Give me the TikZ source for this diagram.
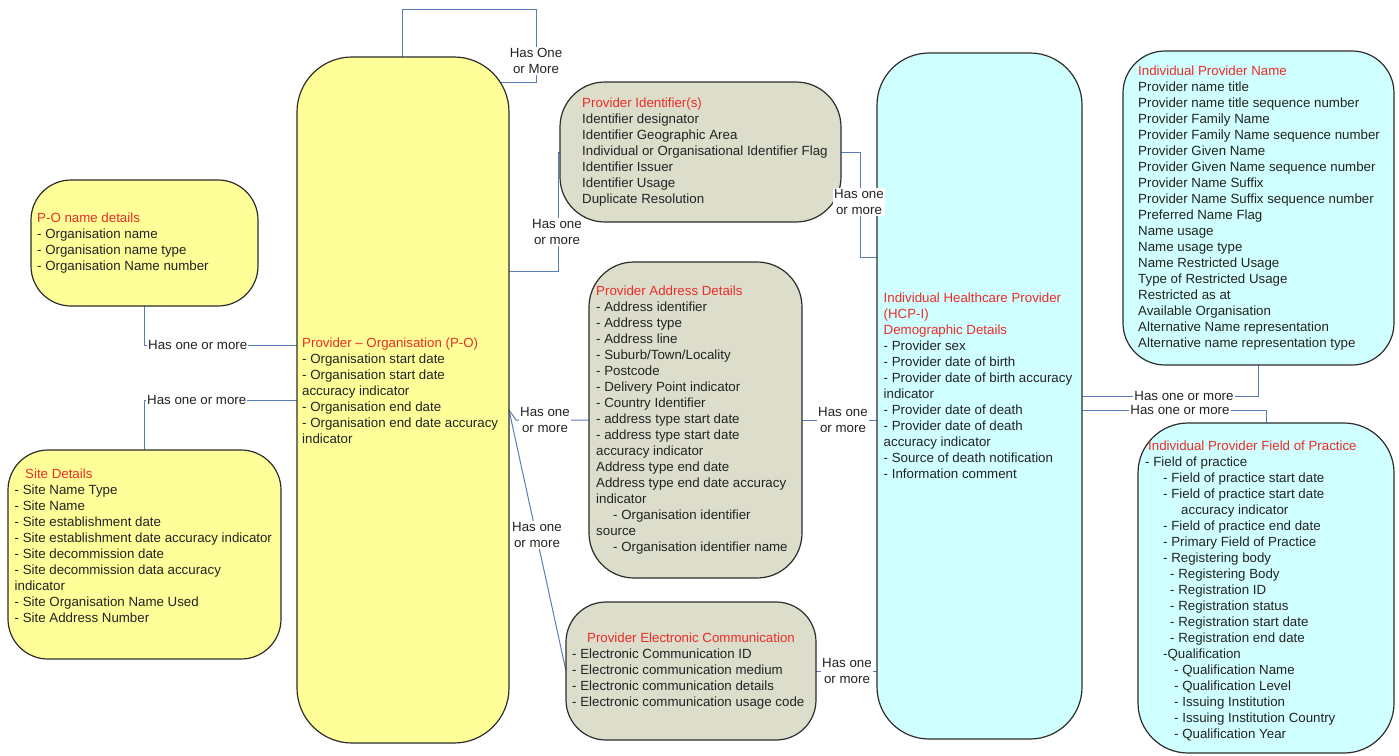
\documentclass[tikz,border=0pt]{standalone}
\usepackage{fontspec}
\setmainfont{Liberation Sans}
\pgfdeclarelayer{background}
\pgfsetlayers{background,main}
\definecolor{yel}{RGB}{255,255,153}
\definecolor{sage}{RGB}{221,221,204}
\definecolor{aqua}{RGB}{208,255,255}
\definecolor{linkblue}{RGB}{90,125,185}
\definecolor{titlered}{RGB}{235,45,40}
\definecolor{ink}{RGB}{35,35,35}
\definecolor{edge}{RGB}{45,45,45}
\newcommand{\ttl}[1]{\textcolor{titlered}{#1}}
\begin{document}
\begin{tikzpicture}[x=1pt,y=-1pt,
  box/.style={draw=edge, line width=1.2pt, outer sep=0pt, inner sep=0pt, anchor=north west},
  blk/.style={anchor=north west, inner sep=0pt, align=left, font=\fontsize{13.3}{16}\selectfont, text=ink},
  lbl/.style={fill=white, inner sep=1pt, align=center, font=\fontsize{13.3}{16}\selectfont, text=ink},
  conn/.style={draw=linkblue, line width=1pt}]
\useasboundingbox (0,0) rectangle (1399,755);

% entity boxes
\node[box, fill=yel, rounded corners=40pt, minimum width=227pt, minimum height=126pt] (pon) at (31,180) {};
\node[box, fill=yel, rounded corners=40pt, minimum width=273pt, minimum height=209pt] (site) at (8,450) {};
\node[box, fill=yel, rounded corners=55pt, minimum width=212pt, minimum height=686pt] (po) at (297,57) {};
\node[box, fill=sage, rounded corners=45pt, minimum width=281pt, minimum height=140pt] (pid) at (560,82) {};
\node[box, fill=sage, rounded corners=45pt, minimum width=213pt, minimum height=316pt] (addr) at (589,262) {};
\node[box, fill=sage, rounded corners=40pt, minimum width=250pt, minimum height=138pt] (ec) at (566,602) {};
\node[box, fill=aqua, rounded corners=52pt, minimum width=205pt, minimum height=686pt] (hcp) at (877,53) {};
\node[box, fill=aqua, rounded corners=42pt, minimum width=271pt, minimum height=314pt] (name) at (1123,51) {};
\node[box, fill=aqua, rounded corners=50pt, minimum width=256pt, minimum height=330pt] (fop) at (1138,423) {};

% bend points of the connectors
\coordinate (loopTop) at (536,9);
\coordinate (loopEnd) at (536,82);
\coordinate (jPon) at (145,345);
\coordinate (jSite) at (145,400);
\coordinate (jPid) at (558,271);
\coordinate (jPidUp) at (558,152);
\coordinate (jHcp) at (860,257);
\coordinate (jOrg) at (509,410);
\coordinate (jAddr) at (516,420);
\coordinate (jName) at (0,396);
\coordinate (jFop) at (0,410);

\begin{pgfonlayer}{background}
\draw[conn] ([xshift=105pt]po.north west) |- (loopTop) -- (loopEnd) -- ([xshift=-15pt]po.east |- loopEnd);
\draw[conn] (pon.south) |- (po.west |- jPon);
\draw[conn] (site.north) |- (po.west |- jSite);
\draw[conn] (po.east |- jPid) -| (jPidUp) -- (pid.west);
\draw[conn] (pid.east) -| (jHcp) -- (hcp.west |- jHcp);
\draw[conn] (po.east |- jOrg) -- (jAddr) -- (addr.west);
\draw[conn] (po.east |- jOrg) -- (ec.west);
\draw[conn] (addr.east) -- (hcp.west |- addr.east);
\draw[conn] (ec.east) -- (hcp.west |- ec.east);
\draw[conn] (hcp.east |- jName) -| (name.south);
\draw[conn] (hcp.east |- jFop) -| (fop.north);
\end{pgfonlayer}

% connector labels
\node[lbl] (lLoop) at (536,61) {Has One\\or More};
\node[lbl, anchor=west] (lPon) at (147,345) {Has one or more};
\node[lbl, anchor=west] (lSite) at (146,400) {Has one or more};
\node[lbl] (lPid) at (557,232) {Has one\\or more};
\node[lbl] (lHcp) at (859,202) {Has one\\or more};
\node[lbl] (lAddr) at (545,420) {Has one\\or more};
\node[lbl] (lEc) at (537,535) {Has one\\or more};
\node[lbl] (lAddrHcp) at (843,420) {Has one\\or more};
\node[lbl] (lEcHcp) at (847,671) {Has one\\or more};
\node[lbl] (lName) at (1184,396) {Has one or more};
\node[lbl] (lFop) at (1180,410) {Has one or more};

% box contents
\node[blk] (tPon) at (37,213) {\ttl{P-O name details}\\- Organisation name\\- Organisation name type\\- Organisation Name number};

\node[blk] (tSite) at (14.5,469) {\hspace*{10.5pt}\ttl{Site Details}\\- Site Name Type\\- Site Name\\- Site establishment date\\- Site establishment date accuracy indicator\\- Site decommission date\\- Site decommission data accuracy\\indicator\\- Site Organisation Name Used\\- Site Address Number};

\node[blk] (tPo) at (302,338) {\ttl{Provider – Organisation (P-O)}\\- Organisation start date\\- Organisation start date\\accuracy indicator\\- Organisation end date\\- Organisation end date accuracy\\indicator};

\node[blk] (tPid) at (582,98) {\ttl{Provider Identifier(s)}\\Identifier designator\\Identifier Geographic Area\\Individual or Organisational Identifier Flag\\Identifier Issuer\\Identifier Usage\\Duplicate Resolution};

\node[blk] (tAddr) at (596,286) {\ttl{Provider Address Details}\\- Address identifier\\- Address type\\- Address line\\- Suburb/Town/Locality\\- Postcode\\- Delivery Point indicator\\- Country Identifier\\- address type start date\\- address type start date\\accuracy indicator\\Address type end date\\Address type end date accuracy\\indicator\\\hspace*{17pt}- Organisation identifier\\source\\\hspace*{17pt}- Organisation identifier name};

\node[blk, anchor=north] (tEcTitle) at (691,633) {\ttl{Provider Electronic Communication}};
\node[blk] (tEc) at (572,649) {- Electronic Communication ID\\- Electronic communication medium\\- Electronic communication details\\- Electronic communication usage code};

\node[blk] (tHcp) at (883.5,293) {\ttl{Individual Healthcare Provider}\\\ttl{(HCP-I)}\\\ttl{Demographic Details}\\- Provider sex\\- Provider date of birth\\- Provider date of birth accuracy\\indicator\\- Provider date of death\\- Provider date of death\\accuracy indicator\\- Source of death notification\\- Information comment};

\node[blk] (tName) at (1138,66) {\ttl{Individual Provider Name}\\Provider name title\\Provider name title sequence number\\Provider Family Name\\Provider Family Name sequence number\\Provider Given Name\\Provider Given Name sequence number\\Provider Name Suffix\\Provider Name Suffix sequence number\\Preferred Name Flag\\Name usage\\Name usage type\\Name Restricted Usage\\Type of Restricted Usage\\Restricted as at\\Available Organisation\\Alternative Name representation\\Alternative name representation type};

\node[blk] (tFop) at (1145,441) {\hspace*{3pt}\ttl{Individual Provider Field of Practice}\\- Field of practice\\\hspace*{18pt}- Field of practice start date\\\hspace*{18pt}- Field of practice start date\\\hspace*{36pt}accuracy indicator\\\hspace*{18pt}- Field of practice end date\\\hspace*{18pt}- Primary Field of Practice\\\hspace*{18pt}- Registering body\\\hspace*{25pt}- Registering Body\\\hspace*{25pt}- Registration ID\\\hspace*{25pt}- Registration status\\\hspace*{25pt}- Registration start date\\\hspace*{25pt}- Registration end date\\\hspace*{18pt}-Qualification\\\hspace*{29pt}- Qualification Name\\\hspace*{29pt}- Qualification Level\\\hspace*{29pt}- Issuing Institution\\\hspace*{29pt}- Issuing Institution Country\\\hspace*{29pt}- Qualification Year};
\end{tikzpicture}
\end{document}
